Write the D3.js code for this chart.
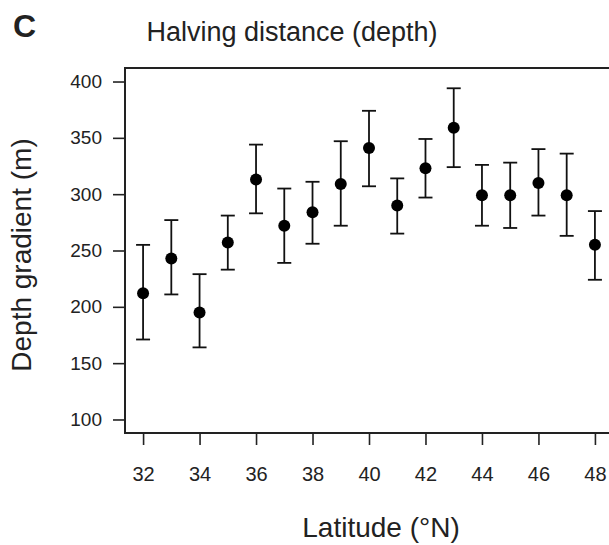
<!DOCTYPE html>
<html>
<head>
<meta charset="utf-8">
<script src="https://cdn.jsdelivr.net/npm/d3@7"></script>
<style>
  body { margin: 0; background: #fff; }
  svg text { font-family: "Liberation Sans", Arial, sans-serif; fill: #222; }
  .axis path, .axis line { stroke: #222; }
</style>
</head>
<body>
<div id="chart"></div>
<script>
(function() {
  var width = 609, height = 545;

  // latitude bins and halving distance estimates
  var latitude = [32, 33, 34, 35, 36, 37, 38, 39, 40, 41, 42, 43, 44, 45, 46, 47, 48];
  var gradient = [212, 243, 195, 257, 313, 272, 284, 309, 341, 290, 323, 359, 299, 299, 310, 299, 255];
  var lower    = [171, 211, 164, 233, 283, 239, 256, 272, 307, 265, 297, 324, 272, 270, 281, 263, 224];
  var upper    = [255, 277, 229, 281, 344, 305, 311, 347, 374, 314, 349, 394, 326, 328, 340, 336, 285];
  var xTicks = [32, 34, 36, 38, 40, 42, 44, 46, 48];
  var yTicks = [100, 150, 200, 250, 300, 350, 400];

  var data = latitude.map(function(d, i) {
    return {lat: d, val: gradient[i], lo: lower[i], hi: upper[i]};
  });

  var svg = d3.select("#chart")
    .append("svg")
    .attr("width", width)
    .attr("height", height);

  // R style 4% padding around the data range
  var x = d3.scaleLinear()
    .domain([31.36, 48.64])
    .range([125, 613]);
  var y = d3.scaleLinear()
    .domain([88, 412])
    .range([433, 68]);

  // box (right edge falls outside the window)
  svg.append("path")
    .attr("d", "M" + x(48.64) + "," + y(412) + "H" + x(31.36) + "V" + y(88) + "H" + x(48.64))
    .attr("fill", "none")
    .attr("stroke", "#222")
    .attr("stroke-width", 2);

  var xAxis = svg.append("g")
    .attr("class", "axis")
    .attr("transform", "translate(0," + y(88) + ")")
    .call(d3.axisBottom(x).tickValues(xTicks).tickSize(12).tickSizeOuter(0).tickPadding(22));
  xAxis.select(".domain").remove();
  xAxis.selectAll("line").attr("stroke-width", 1.6);
  xAxis.selectAll("text")
    .style("font-size", "20px")
    .style("font-family", "'Liberation Sans', Arial, sans-serif")
    .attr("fill", "#222");

  var yAxis = svg.append("g")
    .attr("class", "axis")
    .attr("transform", "translate(" + x(31.36) + ",0)")
    .call(d3.axisLeft(y).tickValues(yTicks).tickSize(12).tickSizeOuter(0).tickPadding(11));
  yAxis.select(".domain").remove();
  yAxis.selectAll("line").attr("stroke-width", 1.6);
  yAxis.selectAll("text")
    .style("font-size", "19px")
    .style("font-family", "'Liberation Sans', Arial, sans-serif")
    .attr("fill", "#333");

  // error bars
  var bars = svg.append("g")
    .selectAll("g")
    .data(data)
    .enter()
    .append("g")
    .attr("stroke", "#111")
    .attr("stroke-width", 1.8);

  bars.append("line")
    .attr("x1", function(d) { return x(d.lat); })
    .attr("x2", function(d) { return x(d.lat); })
    .attr("y1", function(d) { return y(d.lo); })
    .attr("y2", function(d) { return y(d.hi); });
  bars.append("line")
    .attr("x1", function(d) { return x(d.lat) - 7; })
    .attr("x2", function(d) { return x(d.lat) + 7; })
    .attr("y1", function(d) { return y(d.hi); })
    .attr("y2", function(d) { return y(d.hi); });
  bars.append("line")
    .attr("x1", function(d) { return x(d.lat) - 7; })
    .attr("x2", function(d) { return x(d.lat) + 7; })
    .attr("y1", function(d) { return y(d.lo); })
    .attr("y2", function(d) { return y(d.lo); });

  svg.append("g")
    .selectAll("circle")
    .data(data)
    .enter()
    .append("circle")
    .attr("cx", function(d) { return x(d.lat); })
    .attr("cy", function(d) { return y(d.val); })
    .attr("r", 6)
    .attr("fill", "#000");

  // labels
  svg.append("text")
    .attr("x", 13)
    .attr("y", 37)
    .style("font-size", "32px")
    .style("font-weight", "bold")
    .attr("fill", "#000")
    .text("C");

  svg.append("text")
    .attr("x", 292)
    .attr("y", 41)
    .attr("text-anchor", "middle")
    .style("font-size", "27px")
    .text("Halving distance (depth)");

  svg.append("text")
    .attr("x", 381)
    .attr("y", 537)
    .attr("text-anchor", "middle")
    .style("font-size", "28px")
    .text("Latitude (\u00b0N)");

  svg.append("text")
    .attr("transform", "translate(31,255) rotate(-90)")
    .attr("text-anchor", "middle")
    .style("font-size", "28px")
    .text("Depth gradient (m)");
})();
</script>
</body>
</html>
